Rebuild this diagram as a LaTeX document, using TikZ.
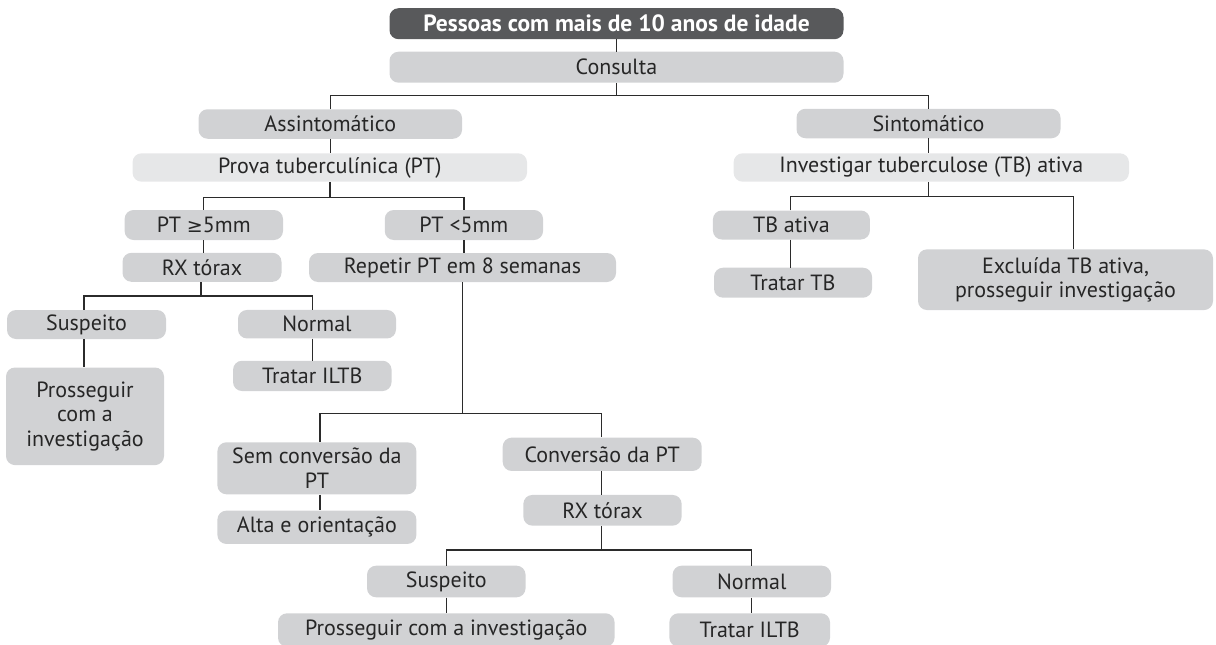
\documentclass[tikz,border=0pt]{standalone}
\usepackage{fontspec}
\setmainfont{PT Sans}
\newfontfamily\symfont{DejaVu Sans}
\definecolor{boxgray}{HTML}{D1D2D4}
\definecolor{boxlight}{HTML}{E6E7E8}
\definecolor{boxdark}{HTML}{58595B}
\definecolor{linegray}{HTML}{2B2B2B}
\begin{document}
\begin{tikzpicture}[x=1pt,y=-1pt,
  box/.style={fill=boxgray, rounded corners=9pt, inner sep=0pt, align=center,
    font=\fontsize{22}{24.5}\selectfont, text=black!85},
  lightbox/.style={box, fill=boxlight},
  darkbox/.style={box, fill=boxdark, text=white, font=\fontsize{23.5}{25}\selectfont\bfseries},
  conn/.style={draw=linegray, line width=1.2pt}]
\useasboundingbox (0,0) rectangle (1216,645);

% row 0-1
\node[darkbox, minimum width=454pt, minimum height=31pt] (title) at (616.5,23.7) {Pessoas com mais de 10 anos de idade};
\node[box, minimum width=454pt, minimum height=31pt] (consulta) at (616.5,67.2) {Consulta};

% left branch
\node[box, minimum width=263.5pt, minimum height=29.5pt] (assint) at (330.3,124) {Assintomático};
\node[lightbox, minimum width=394.5pt, minimum height=28.4pt] (prova) at (329.8,167.5) {Prova tuberculínica (PT)};
\node[box, minimum width=158.4pt, minimum height=30pt] (ptge) at (203.8,225) {PT {\symfont\fontsize{19}{20}\selectfont ≥}5mm};
\node[box, minimum width=158.3pt, minimum height=30pt] (ptlt) at (463.9,225) {PT <5mm};
\node[box, minimum width=159pt, minimum height=29pt] (rx1) at (202,267.3) {RX tórax};
\node[box, minimum width=307pt, minimum height=29pt] (repetir) at (462.5,267.5) {Repetir PT em 8 semanas};
\node[box, minimum width=159pt, minimum height=29pt] (susp1) at (86.5,324.5) {Suspeito};
\node[box, minimum width=158pt, minimum height=28.5pt] (normal1) at (317,324.2) {Normal};
\node[box, minimum width=158pt, minimum height=97.6pt] (prosseg1) at (85,416.3) {Prosseguir\\com a\\investigação};
\node[box, minimum width=158.5pt, minimum height=30.3pt] (tratar1) at (312.3,375.9) {Tratar ILTB};
\node[box, minimum width=199pt, minimum height=52pt] (semconv) at (316.9,468.3) {Sem conversão da\\PT};
\node[box, minimum width=199pt, minimum height=33.3pt] (alta) at (316.9,527.3) {Alta e orientação};
\node[box, minimum width=199pt, minimum height=33.3pt] (conv) at (602.2,454.3) {Conversão da PT};
\node[box, minimum width=158.3pt, minimum height=30.7pt] (rx2) at (602.5,510.3) {RX tórax};
\node[box, minimum width=158.5pt, minimum height=31.6pt] (susp2) at (446.3,581.5) {Suspeito};
\node[box, minimum width=158.4pt, minimum height=31.6pt] (normal2) at (751.8,581.5) {Normal};
\node[box, minimum width=336.6pt, minimum height=33.4pt] (prosseg2) at (446.3,630) {Prosseguir com a investigação};
\node[box, minimum width=160.7pt, minimum height=33.4pt] (tratar2) at (749.7,630) {Tratar ILTB};

% right branch
\node[box, minimum width=264pt, minimum height=29.5pt] (sint) at (928.5,123.5) {Sintomático};
\node[lightbox, minimum width=395.4pt, minimum height=28.4pt] (invest) at (931.3,167.5) {Investigar tuberculose (TB) ativa};
\node[box, minimum width=157pt, minimum height=29pt] (tbativa) at (791.4,225) {TB ativa};
\node[box, minimum width=158pt, minimum height=30pt] (tratartb) at (793,282.7) {Tratar TB};
\node[box, minimum width=295pt, minimum height=60.7pt] (excl) at (1065.5,279.7) {Excluída TB ativa,\\prosseguir investigação};

% junction coordinates
\coordinate (j1) at (616.5,95.7);
\coordinate (j2) at (330,197.5);
\coordinate (j3) at (928.5,196.7);
\coordinate (j3l) at (790.6,196.7);
\coordinate (j3r) at (1073.5,196.7);
\coordinate (j4) at (201,296);
\coordinate (j4l) at (84,296);
\coordinate (j4r) at (312.4,296);
\coordinate (j5) at (462.6,413.3);
\coordinate (j5l) at (320,413.3);
\coordinate (j6) at (601.5,550);

% connectors
\draw[conn] (title.south) -- (consulta.north);
\draw[conn] (consulta.south) -- (j1);
\draw[conn] (assint.north) |- (j1) -| (sint.north);
\draw[conn] (assint.south) -- (prova.north -| assint.south);
\draw[conn] (prova.south -| j2) -- (j2);
\draw[conn] (ptge.north) |- (j2) -| (ptlt.north);
\draw[conn] (ptge.south) -- (ptge.south |- rx1.north);
\draw[conn] (ptlt.south) -- (ptlt.south |- repetir.north);
% right branch
\draw[conn] (sint.south -| j3) -- (invest.north -| j3);
\draw[conn] (invest.south -| j3) -- (j3);
\draw[conn] (j3l |- tbativa.north) -- (j3l) -- (j3r) -- (j3r |- excl.north);
\draw[conn] (j3l |- tbativa.south) -- (j3l |- tratartb.north);
% left lower
\draw[conn] (rx1.south -| j4) -- (j4);
\draw[conn] (j4l |- susp1.north) -- (j4l) -- (j4r) -- (j4r |- normal1.north);
\draw[conn] (j4r |- normal1.south) -- (j4r |- tratar1.north);
\draw[conn] (j4l |- susp1.south) -- (j4l |- prosseg1.north);
% middle
\draw[conn] (repetir.south -| j5) -- (j5);
\draw[conn] (j5l |- semconv.north) |- (j5) -| (conv.north -| j6);
\draw[conn] (j5l |- semconv.south) -- (j5l |- alta.north);
\draw[conn] (conv.south -| j6) -- (rx2.north -| j6);
\draw[conn] (rx2.south -| j6) -- (j6);
\draw[conn] (susp2.north) |- (j6) -| (normal2.north);
\draw[conn] (susp2.south) -- (susp2.south |- prosseg2.north);
\draw[conn] (normal2.south) -- (normal2.south |- tratar2.north);
\end{tikzpicture}
\end{document}
